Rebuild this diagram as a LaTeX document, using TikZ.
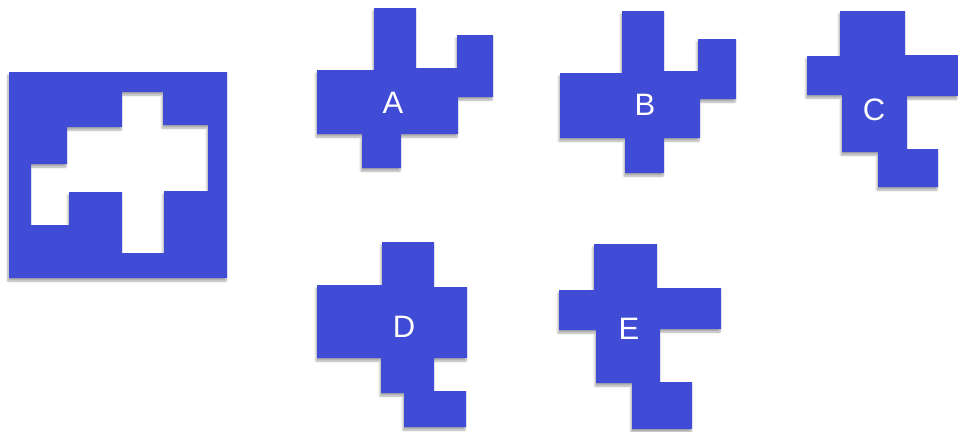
\documentclass[tikz,border=0pt]{standalone}
\usepackage{fontspec}
\setmainfont{Liberation Sans}
\usetikzlibrary{shadows.blur}
\definecolor{pieceblue}{RGB}{64,75,214}

\begin{document}
\begin{tikzpicture}[x=1pt,y=-1pt,
    piece/.style={fill=pieceblue,draw=none,blur shadow={shadow xshift=-1pt,shadow yshift=-3pt,shadow blur steps=6,shadow opacity=35}},
    letter/.style={text=white,font=\fontsize{31}{31}\selectfont}]

    \useasboundingbox (0,0) rectangle (958,431);

    % frame with the hole
    \begin{scope}
        \fill[piece,even odd rule] (9,72) rectangle (227,278)
            (122,92) -- (163,92) -- (163,125) -- (208,125) -- (208,191) -- (164,191) -- (164,253) -- (122,253)
            -- (122,192) -- (69,192) -- (69,225) -- (31,225) -- (31,164) -- (67,164) -- (67,127) -- (122,127) -- cycle;
    \end{scope}

    % piece A
    \fill[piece] (374,8) -- (416,8) -- (416,68) -- (457,68) -- (457,35) -- (493,35) -- (493,97) -- (458,97)
        -- (458,134) -- (401,134) -- (401,168) -- (362,168) -- (362,134) -- (317,134) -- (317,70) -- (374,70) -- cycle;
    \node[letter] (A) at (393,103) {A};

    % piece B
    \fill[piece] (622,11) -- (664,11) -- (664,71) -- (698,71) -- (698,39) -- (736,39) -- (736,99) -- (700,99)
        -- (700,138) -- (664,138) -- (664,173) -- (625,173) -- (625,138) -- (560,138) -- (560,73) -- (622,73) -- cycle;
    \node[letter] (B) at (645,105) {B};

    % piece C
    \fill[piece] (840,11) -- (905,11) -- (905,55) -- (958,55) -- (958,96) -- (907,96) -- (907,149) -- (938,149)
        -- (938,187) -- (878,187) -- (878,152) -- (842,152) -- (842,95) -- (807,95) -- (807,56) -- (840,56) -- cycle;
    \node[letter] (C) at (874,110) {C};

    % piece D
    \fill[piece] (382,242) -- (434,242) -- (434,287) -- (467,287) -- (467,358) -- (434,358) -- (434,391) -- (466,391)
        -- (466,427) -- (404,427) -- (404,393) -- (381,393) -- (381,358) -- (317,358) -- (317,285) -- (382,285) -- cycle;
    \node[letter] (D) at (404,327) {D};

    % piece E
    \fill[piece] (594,244) -- (657,244) -- (657,288) -- (721,288) -- (721,329) -- (660,329) -- (660,382) -- (692,382)
        -- (692,429) -- (632,429) -- (632,383) -- (596,383) -- (596,330) -- (559,330) -- (559,290) -- (594,290) -- cycle;
    \node[letter] (E) at (629,329) {E};

\end{tikzpicture}
\end{document}
